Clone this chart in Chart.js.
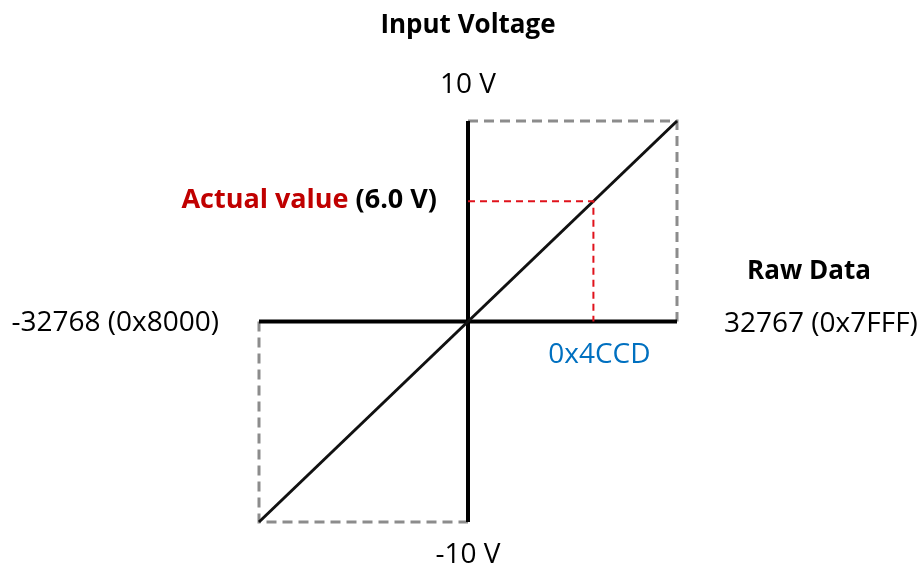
<!DOCTYPE html>
<html>
<head>
<meta charset="utf-8">
<title>Input Voltage vs Raw Data</title>
<script src="https://cdn.jsdelivr.net/npm/chart.js@4.4.1/dist/chart.umd.min.js"></script>
<style>
  html, body { margin: 0; padding: 0; background: #fff; }
  #wrap { width: 922px; height: 569px; }
</style>
</head>
<body>
<div id="wrap"><canvas id="grafico" width="922" height="569"></canvas></div>
<script>
// ends of the raw data range and of the voltage range
const rawRange = [-32768, 32767]
const voltRange = [-10, 10]
const rawLabels = ['-32768 (0x8000)', '32767 (0x7FFF)']
const voltLabels = ['-10 V', '10 V']
// the marked reading
const actualRaw = [0x4CCD]
const actualVolt = [6.0]
const actualRawLabel = '0x4CCD'
const actualVoltLabel = '(6.0 V)'

const FONT = '"Open Sans", "Noto Sans", sans-serif'

// dashed box corners for the two quadrants the line passes through
const boxTopRight = [
  { x: 0, y: voltRange[1] },
  { x: rawRange[1], y: voltRange[1] },
  { x: rawRange[1], y: 0 },
]
const boxBottomLeft = [
  { x: rawRange[0], y: 0 },
  { x: rawRange[0], y: voltRange[0] },
  { x: 0, y: voltRange[0] },
]

const lineaBase = {
  showLine: true,
  pointRadius: 0,
  pointHoverRadius: 0,
  fill: false,
  tension: 0,
  clip: false,
}

// textos alrededor del grafico
const textos = {
  id: 'textos',
  afterDraw(chart) {
    const { ctx, scales } = chart
    const x = scales.x
    const y = scales.y
    const x0 = x.getPixelForValue(0)
    const yTop = y.getPixelForValue(voltRange[1])
    const yBot = y.getPixelForValue(voltRange[0])
    const yMid = y.getPixelForValue(0)
    const xL = x.getPixelForValue(rawRange[0])
    const xR = x.getPixelForValue(rawRange[1])

    ctx.save()
    ctx.textBaseline = 'middle'
    ctx.fillStyle = '#000'

    ctx.font = 'bold 26px ' + FONT
    ctx.textAlign = 'center'
    ctx.fillText('Input Voltage', x0, 26)
    ctx.fillText('Raw Data', 809, 272)

    ctx.font = '28px ' + FONT
    ctx.fillText(voltLabels[1], x0, yTop - 36)
    ctx.fillText(voltLabels[0], x0, yBot + 33)

    ctx.textAlign = 'right'
    ctx.fillText(rawLabels[0], xL - 40, yMid + 2)
    ctx.textAlign = 'left'
    ctx.fillText(rawLabels[1], xR + 47, yMid + 3)

    // valor marcado sobre el eje x
    ctx.textAlign = 'center'
    ctx.fillStyle = '#0070c0'
    ctx.fillText(actualRawLabel, x.getPixelForValue(actualRaw[0]) + 6, yMid + 34)

    // etiqueta del valor real, dos colores
    ctx.font = 'bold 27px ' + FONT
    const parte1 = 'Actual value '
    const w1 = ctx.measureText(parte1).width
    const w2 = ctx.measureText(actualVoltLabel).width
    const fin = 437
    const yLabel = y.getPixelForValue(actualVolt[0]) - 1
    ctx.textAlign = 'left'
    ctx.fillStyle = '#c00000'
    ctx.fillText(parte1, fin - w1 - w2, yLabel)
    ctx.fillStyle = '#000'
    ctx.fillText(actualVoltLabel, fin - w2, yLabel)
    ctx.restore()
  },
}

new Chart(document.getElementById('grafico'), {
  type: 'scatter',
  data: {
    datasets: [
      {
        ...lineaBase,
        label: 'lectura',
        data: [
          { x: 0, y: actualVolt[0] },
          { x: actualRaw[0], y: actualVolt[0] },
          { x: actualRaw[0], y: 0 },
        ],
        borderColor: '#e0121b',
        borderWidth: 2,
        borderDash: [7, 5],
        order: 0,
      },
      {
        ...lineaBase,
        label: 'conversion',
        data: [
          { x: rawRange[0], y: voltRange[0] },
          { x: rawRange[1], y: voltRange[1] },
        ],
        borderColor: '#111',
        borderWidth: 3,
        order: 1,
      },
      {
        ...lineaBase,
        label: 'eje x',
        data: [
          { x: rawRange[0], y: 0 },
          { x: rawRange[1], y: 0 },
        ],
        borderColor: '#000',
        borderWidth: 4,
        order: 2,
      },
      {
        ...lineaBase,
        label: 'eje y',
        data: [
          { x: 0, y: voltRange[0] },
          { x: 0, y: voltRange[1] },
        ],
        borderColor: '#000',
        borderWidth: 4,
        order: 2,
      },
      {
        ...lineaBase,
        label: 'caja superior',
        data: boxTopRight,
        borderColor: '#8c8c8c',
        borderWidth: 3,
        borderDash: [10, 6],
        order: 3,
      },
      {
        ...lineaBase,
        label: 'caja inferior',
        data: boxBottomLeft,
        borderColor: '#8c8c8c',
        borderWidth: 3,
        borderDash: [10, 6],
        order: 3,
      },
    ],
  },
  options: {
    responsive: false,
    animation: false,
    events: [],
    layout: {
      padding: { left: 259, right: 245, top: 121, bottom: 47 },
    },
    scales: {
      x: { type: 'linear', min: rawRange[0], max: rawRange[1], display: false },
      y: { type: 'linear', min: voltRange[0], max: voltRange[1], display: false },
    },
    plugins: {
      legend: { display: false },
      tooltip: { enabled: false },
    },
  },
  plugins: [textos],
})
</script>
</body>
</html>
